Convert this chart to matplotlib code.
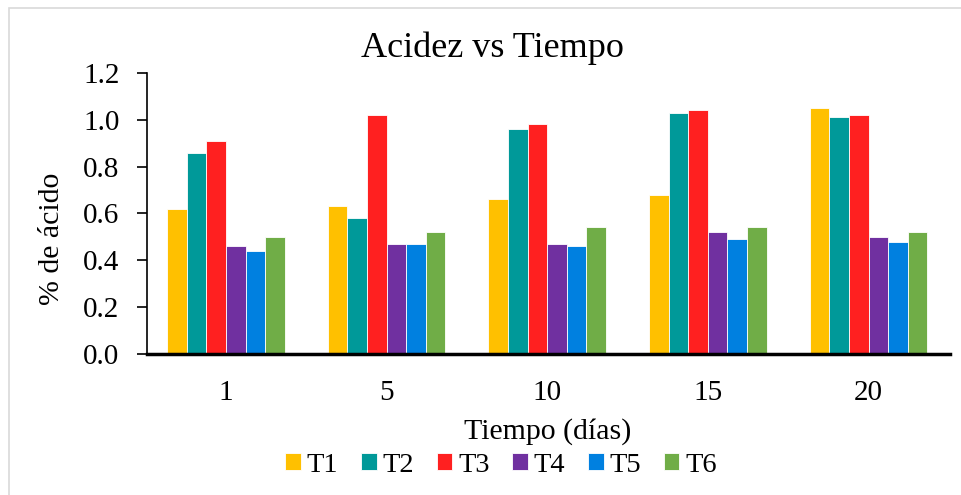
import matplotlib
matplotlib.use("Agg")
import matplotlib.pyplot as plt
import numpy as np
from matplotlib.patches import Rectangle

days = ["1", "5", "10", "15", "20"]
series = ["T1", "T2", "T3", "T4", "T5", "T6"]
T1 = [0.62, 0.63, 0.66, 0.68, 1.05]
T2 = [0.86, 0.58, 0.96, 1.03, 1.01]
T3 = [0.91, 1.02, 0.98, 1.04, 1.02]
T4 = [0.46, 0.47, 0.47, 0.52, 0.50]
T5 = [0.44, 0.47, 0.46, 0.49, 0.48]
T6 = [0.50, 0.52, 0.54, 0.54, 0.52]
values = [T1, T2, T3, T4, T5, T6]
colors = ["#FFC000", "#009999", "#FF2020", "#7030A0", "#0080E0", "#70AD47"]

plt.rcParams['font.family'] = ['Liberation Serif', 'DejaVu Serif']

fig = plt.figure(figsize=(9.62, 4.95), dpi=100)
ax = fig.add_axes([0.153, 0.285, 0.835, 0.5677])

x = np.arange(len(days))
bw = 0.122
for i, (name, vals, c) in enumerate(zip(series, values, colors)):
    ax.bar(x + (i - 2.5) * bw, vals, width=bw, color=c, edgecolor='white',
           linewidth=0.6, label=name)

ax.set_xlim(-0.49, 4.51)
ax.set_ylim(0, 1.2)
ax.set_yticks(np.arange(0, 1.21, 0.2))
ax.yaxis.set_major_formatter(matplotlib.ticker.FormatStrFormatter('%.1f'))
ax.set_xticks(x)
ax.set_xticklabels(days)
ax.tick_params(axis='y', direction='out', length=7, width=1.2, labelsize=21, pad=13)
ax.tick_params(axis='x', length=0, labelsize=21, pad=19)
for s in ['top', 'right']:
    ax.spines[s].set_visible(False)
ax.spines['left'].set_linewidth(1.2)
ax.spines['bottom'].set_linewidth(2.5)

fig.text(492 / 962, 1 - 48 / 495, "Acidez vs Tiempo", ha='center', va='center', fontsize=26)
fig.text(548 / 962, 1 - 432 / 495, "Tiempo (días)", ha='center', va='center', fontsize=21.5)
fig.text(52 / 962, 1 - 239 / 495, "% de ácido", ha='center', va='center', rotation=90, fontsize=21.5)

leg = fig.legend(loc='center', bbox_to_anchor=(501 / 962, 1 - 465 / 495), ncol=6, frameon=False,
                 fontsize=20.5, handlelength=0.55, handleheight=0.55, handletextpad=0.2,
                 columnspacing=0.8, borderpad=0, borderaxespad=0)

fig.patches.append(Rectangle((9 / 962, -0.1), 1.2, 1 - 8 / 495 + 0.1, transform=fig.transFigure,
                             fill=False, edgecolor='#D9D9D9', linewidth=1.2))

fig.savefig("out.png", dpi=100)
